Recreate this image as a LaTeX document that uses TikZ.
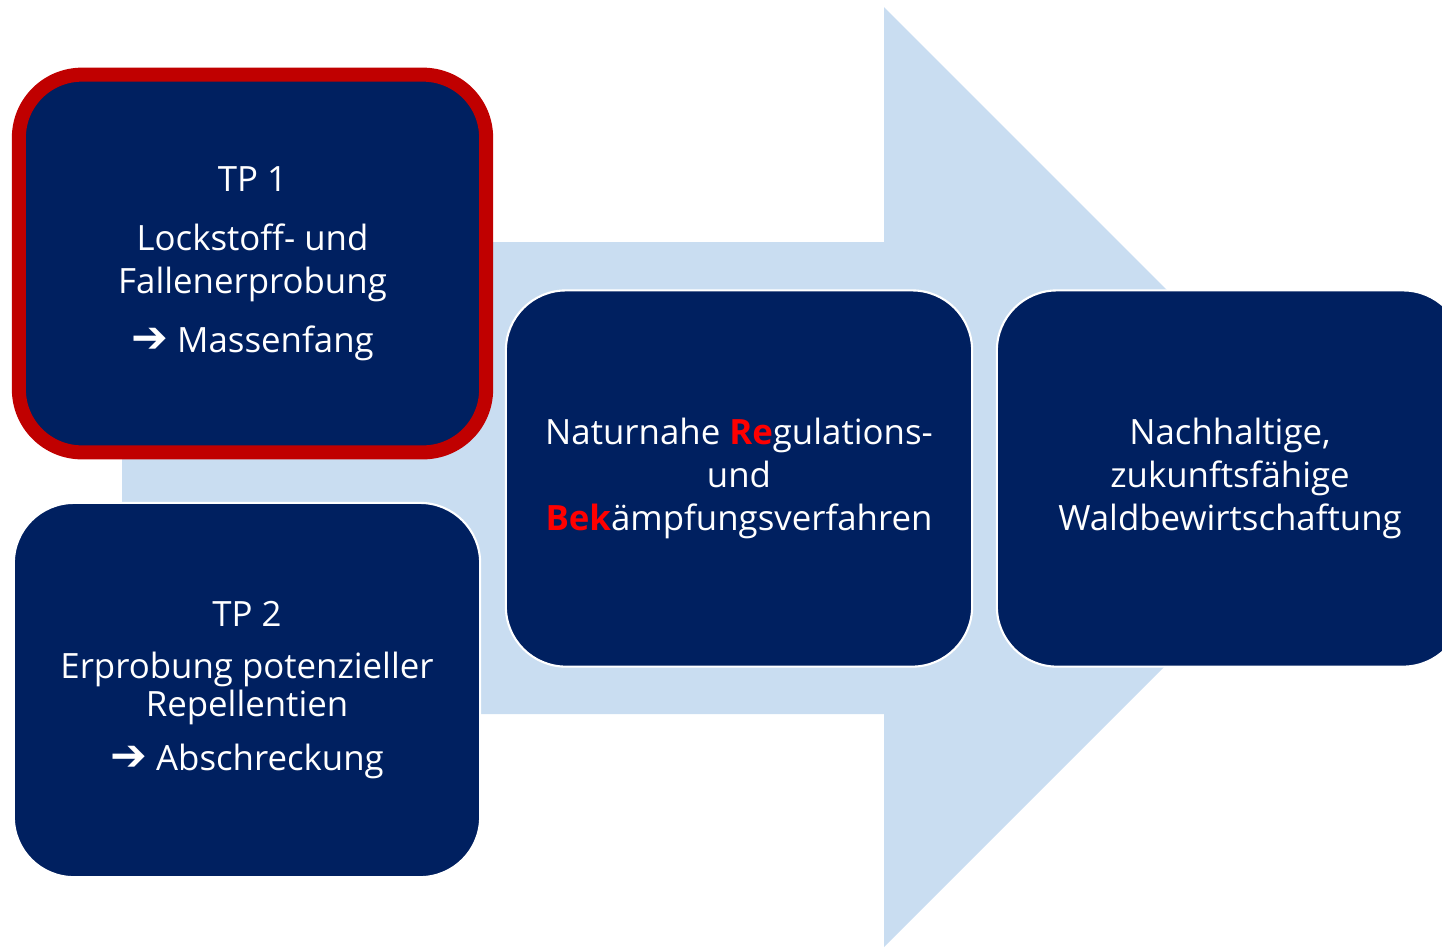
\documentclass[tikz,border=0pt]{standalone}
\usepackage{fontspec}
\setmainfont{Open Sans}
\newfontfamily\arrowfont{DejaVu Sans}
\usetikzlibrary{positioning}
\definecolor{navy}{HTML}{002060}
\definecolor{tpred}{HTML}{C00000}
\definecolor{arrowblue}{HTML}{C9DDF1}
\newcommand{\goesto}{{\arrowfont\bfseries\fontsize{12.5pt}{12.4pt}\selectfont ➔}}
\newcommand{\hl}[1]{\textcolor{red}{\bfseries #1}}

\begin{document}
\begin{tikzpicture}[x=0.01cm, y=-0.01cm,
    navybox/.style={draw=white, line width=0.6pt, fill=navy, rounded corners=0.6cm,
      minimum width=4.66cm, minimum height=3.76cm, text=white, align=center,
      font=\fontsize{9.9pt}{12.3pt}\selectfont}]
  \useasboundingbox (0,0) rectangle (1442,947);
  \clip (0,0) rectangle (1442,947);
  % big arrow in the background
  \fill[arrowblue] (122,242) -- (884,242) -- (884,7) -- (1354,477) -- (884,947)
    -- (884,714) -- (122,714) -- cycle;
  \node[navybox, draw=tpred, line width=0.14cm, rounded corners=0.63cm,
    minimum width=4.67cm, minimum height=3.775cm] (tp1) at (252.5,263.5) {
    TP 1\\[0.16cm]
    Lockstoff- und\\
    Fallenerprobung\\[0.15cm]
    \goesto{} Massenfang
  };
  \node[navybox, minimum height=3.74cm] (tp2) at (247,690) {
    TP 2\\[0.09cm]
    Erprobung potenzieller\\[-0.05cm]
    Repellentien\\[0.11cm]
    \goesto{} Abschreckung
  };
  \node[navybox] (regul) at (739,478.5) {
    Naturnahe \hl{Re}gulations-\\
    und\\
    \hl{Bek}ämpfungsverfahren
  };
  \node[navybox] (wald) at (1230,478.5) {
    Nachhaltige,\\
    zukunftsfähige\\
    Waldbewirtschaftung
  };
\end{tikzpicture}
\end{document}
